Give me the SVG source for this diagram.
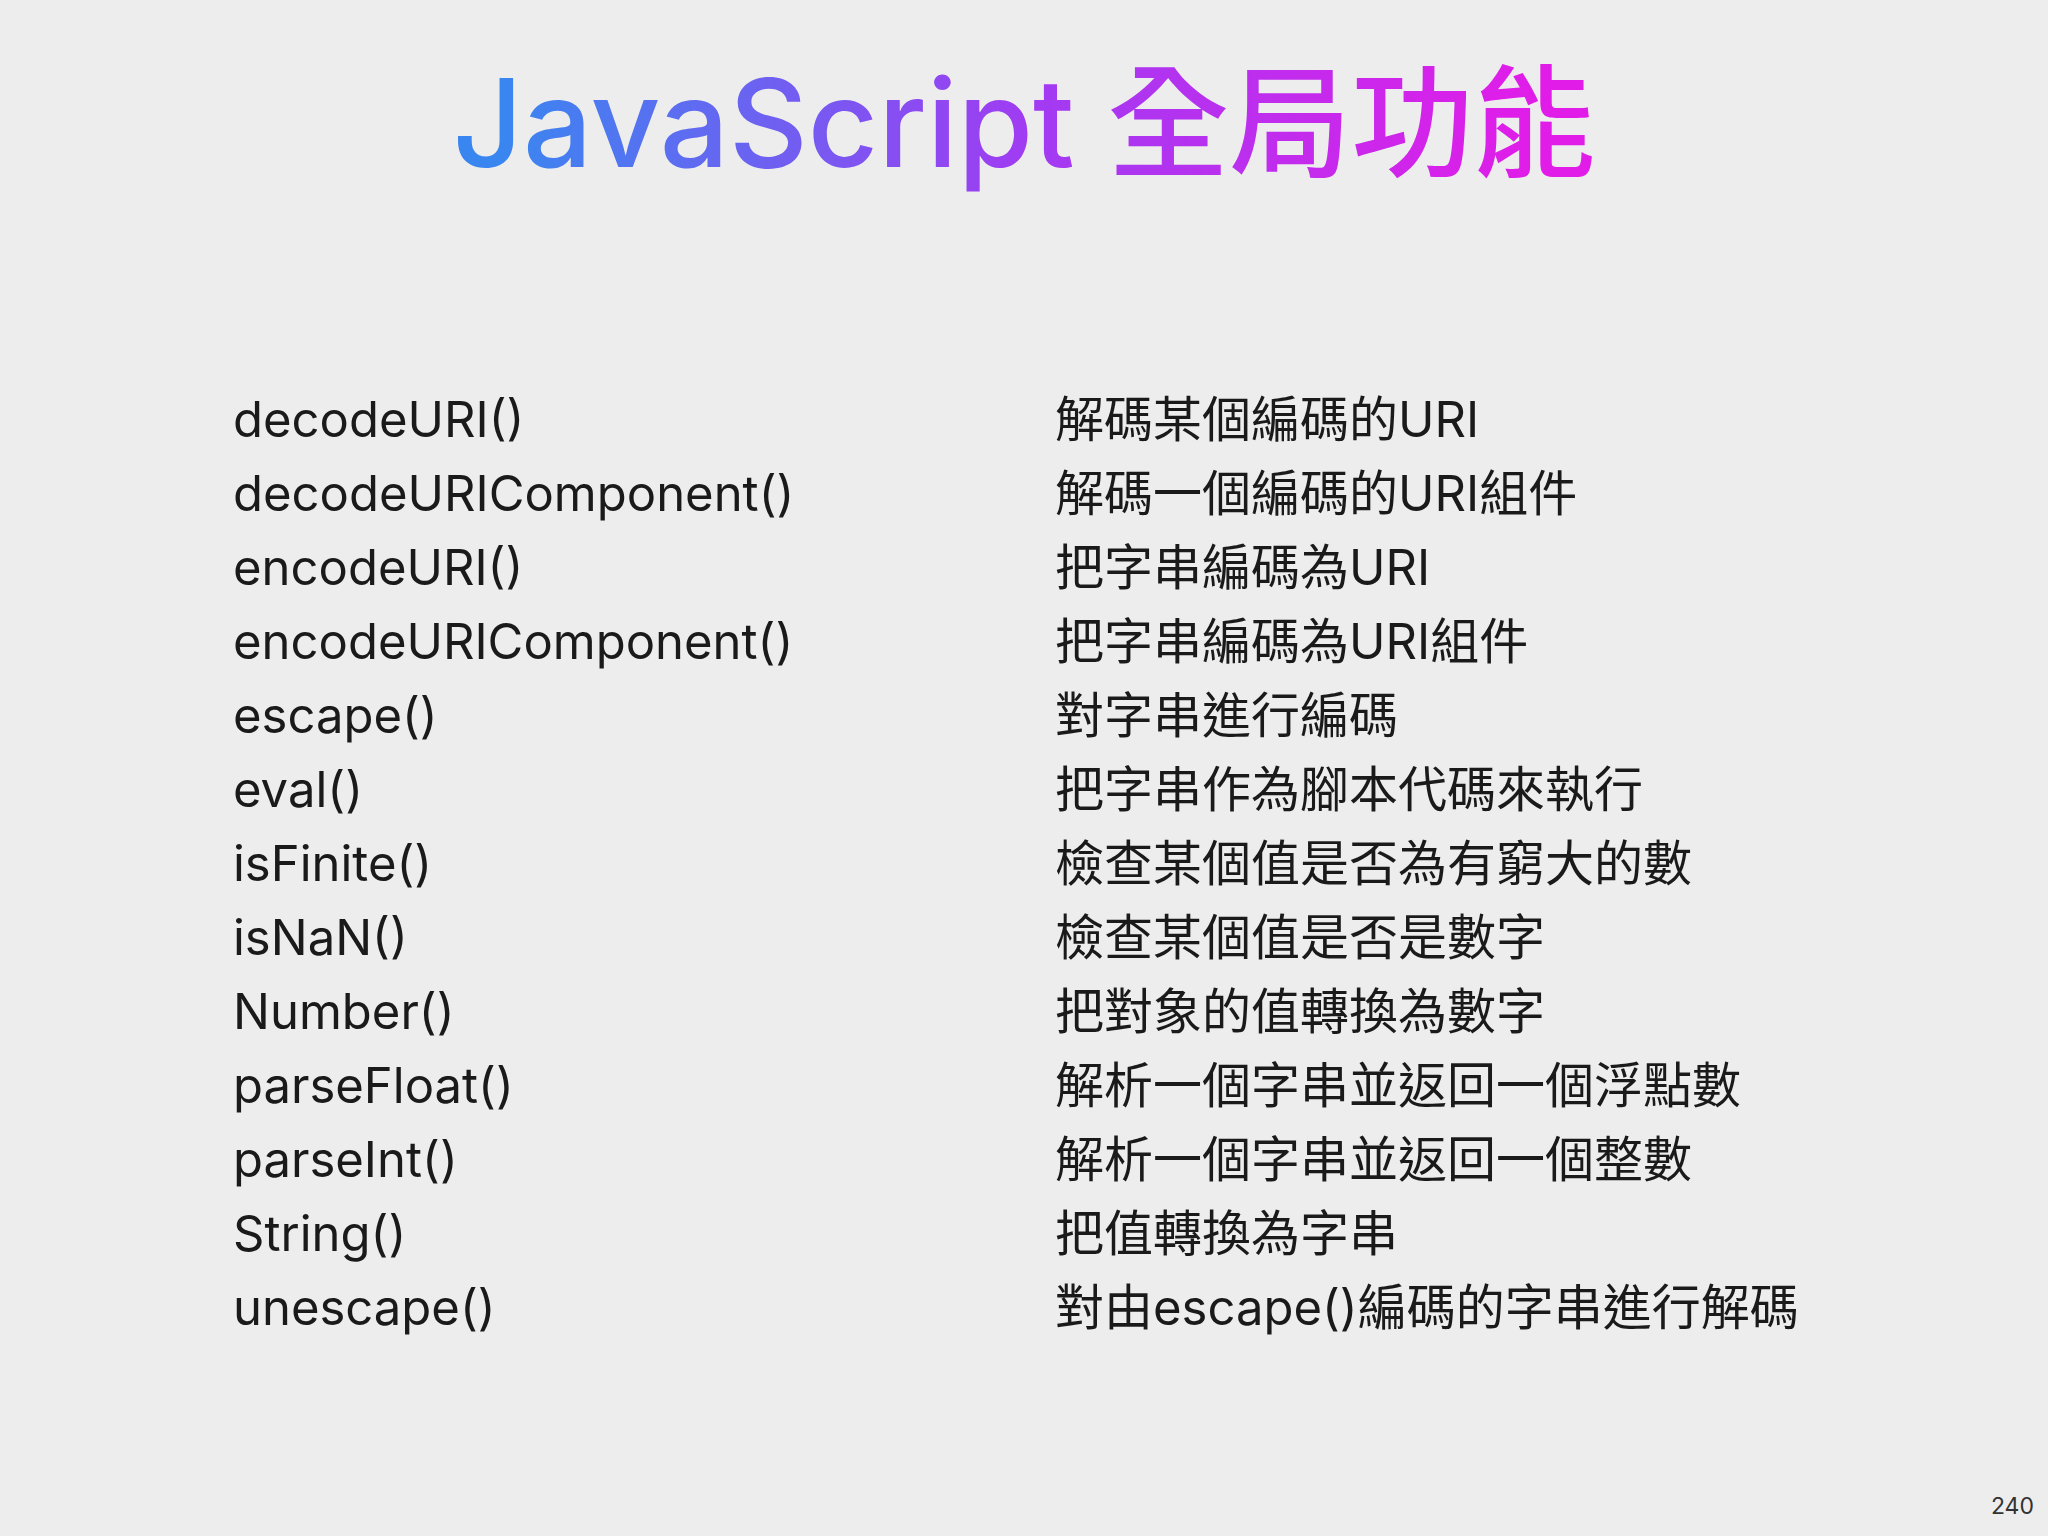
<svg xmlns="http://www.w3.org/2000/svg" width="2048" height="1536" viewBox="0 0 2048 1536">
<defs>
<linearGradient id="tg" x1="503" y1="0" x2="1545" y2="0" gradientUnits="userSpaceOnUse">
<stop offset="0" stop-color="#3a86f0"/>
<stop offset="0.5" stop-color="#a03cf2"/>
<stop offset="1" stop-color="#e21ce8"/>
</linearGradient>
<style>
.t{font-family:Inter,"Noto Sans","Noto Sans CJK TC",sans-serif;font-size:49px;fill:#1a1a1a}
</style>
</defs>
<rect width="2048" height="1536" fill="#ededed"/>
<text x="1024" y="167" text-anchor="middle" font-family="Inter,'Noto Sans CJK TC',sans-serif" font-size="122" font-weight="500" fill="url(#tg)">JavaScript 全局功能</text>
<g id="left" class="t">
<text class="t" x="233" y="437">decodeURI()</text>
<text class="t" x="233" y="511">decodeURIComponent()</text>
<text class="t" x="233" y="585">encodeURI()</text>
<text class="t" x="233" y="659">encodeURIComponent()</text>
<text class="t" x="233" y="733">escape()</text>
<text class="t" x="233" y="807">eval()</text>
<text class="t" x="233" y="881">isFinite()</text>
<text class="t" x="233" y="955">isNaN()</text>
<text class="t" x="233" y="1029">Number()</text>
<text class="t" x="233" y="1103">parseFloat()</text>
<text class="t" x="233" y="1177">parseInt()</text>
<text class="t" x="233" y="1251">String()</text>
<text class="t" x="233" y="1325">unescape()</text>
</g>
<g id="right">
<text class="t" x="1055" y="437">解碼某個編碼的URI</text>
<text class="t" x="1055" y="511">解碼一個編碼的URI組件</text>
<text class="t" x="1055" y="585">把字串編碼為URI</text>
<text class="t" x="1055" y="659">把字串編碼為URI組件</text>
<text class="t" x="1055" y="733">對字串進行編碼</text>
<text class="t" x="1055" y="807">把字串作為腳本代碼來執行</text>
<text class="t" x="1055" y="881">檢查某個值是否為有窮大的數</text>
<text class="t" x="1055" y="955">檢查某個值是否是數字</text>
<text class="t" x="1055" y="1029">把對象的值轉換為數字</text>
<text class="t" x="1055" y="1103">解析一個字串並返回一個浮點數</text>
<text class="t" x="1055" y="1177">解析一個字串並返回一個整數</text>
<text class="t" x="1055" y="1251">把值轉換為字串</text>
<text class="t" x="1055" y="1325">對由escape()編碼的字串進行解碼</text>
</g>
<text x="2034" y="1514" text-anchor="end" font-family="Inter,sans-serif" font-size="23" fill="#333">240</text>
</svg>
